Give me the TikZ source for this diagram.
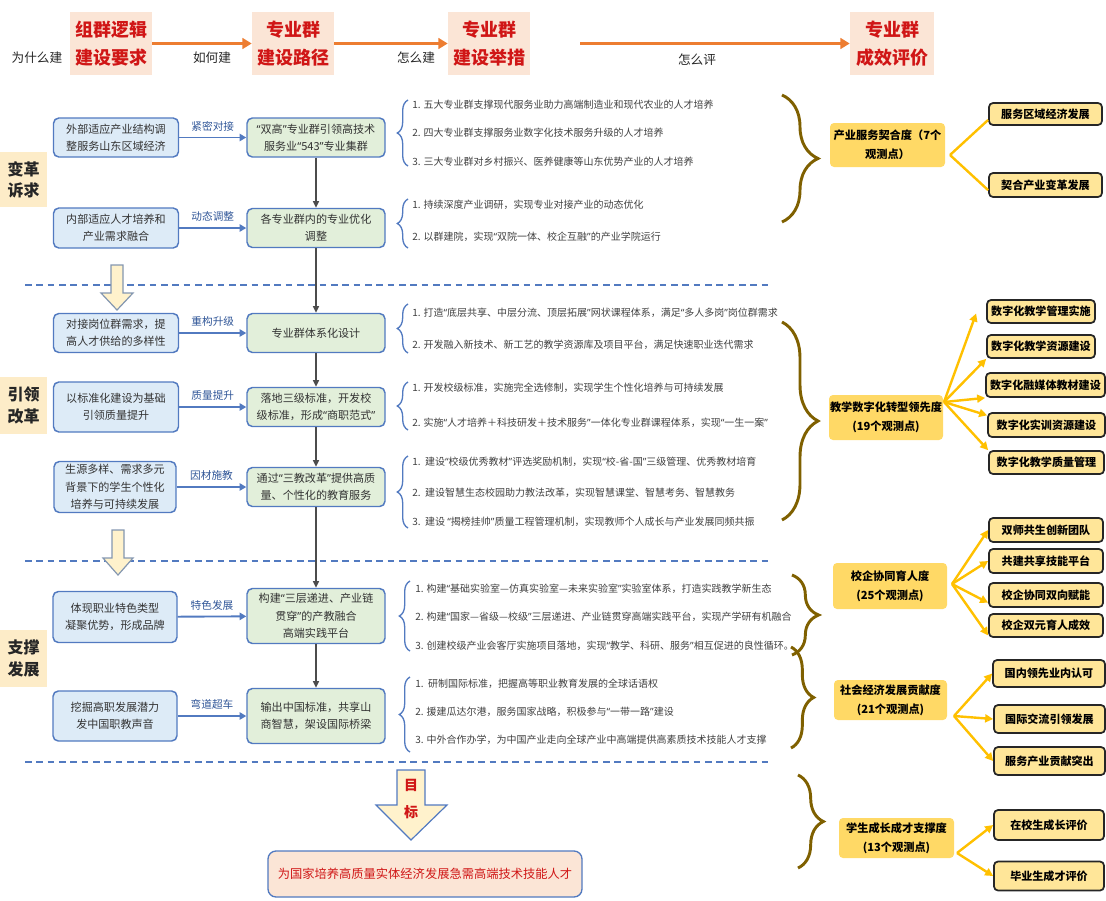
\documentclass[tikz,border=0pt]{standalone}
\usepackage{fontspec}
\setmainfont{Noto Sans CJK SC}
\newfontfamily\qtfont{Noto Sans}
\newcommand\qo{{\qtfont “}}
\newcommand\qc{{\qtfont ”}}
\usepackage{tikz}
\usetikzlibrary{arrows.meta,decorations.pathreplacing,calc}

\definecolor{hdrfill}{RGB}{251,229,214}
\definecolor{hdrred}{RGB}{208,22,22}
\definecolor{arrorange}{RGB}{237,125,49}
\definecolor{sidefill}{RGB}{253,236,200}
\definecolor{inblue}{RGB}{221,235,247}
\definecolor{edgeblue}{RGB}{82,122,192}
\definecolor{outgreen}{RGB}{226,239,218}
\definecolor{lblblue}{RGB}{47,85,151}
\definecolor{txtgray}{RGB}{64,64,64}
\definecolor{bracegold}{RGB}{127,96,0}
\definecolor{catgold}{RGB}{255,217,102}
\definecolor{leafgold}{RGB}{255,230,153}
\definecolor{lineamber}{RGB}{255,192,0}
\definecolor{blockfill}{RGB}{255,242,204}
\definecolor{blockedge}{RGB}{132,151,176}

\begin{document}
\begin{tikzpicture}[x=0.75pt,y=0.75pt,yscale=-1,xscale=1,
  wh/.style 2 args={minimum width=#1*0.75pt,minimum height=#2*0.75pt},
  hdrbox/.style={fill=hdrfill,text=hdrred,align=center,inner sep=0pt,font=\fontsize{13.5}{21}\selectfont\bfseries},
  hdrtxt/.style={inner sep=0pt,text=black!85,font=\fontsize{9.5}{11}\selectfont},
  sidebox/.style={fill=sidefill,align=center,inner sep=0pt,text=black!85,font=\fontsize{12}{16}\selectfont\bfseries},
  inbox/.style={draw=edgeblue,fill=inblue,line width=1.1pt,rounded corners=4pt,align=center,inner sep=0pt,text=black!80,font=\fontsize{8.3}{13}\selectfont},
  outbox/.style={inbox,fill=outgreen},
  linklbl/.style={text=lblblue,inner sep=1pt,font=\fontsize{8}{9}\selectfont},
  itemtxt/.style={anchor=west,inner sep=0pt,text=txtgray,font=\fontsize{7.5}{9}\selectfont},
  catbox/.style={fill=catgold,rounded corners=3pt,align=center,inner sep=0pt,font=\fontsize{8.4}{14}\selectfont\bfseries},
  leafbox/.style={fill=leafgold,draw=black!85,line width=1.3pt,rounded corners=3pt,inner sep=0pt,font=\fontsize{8.3}{10}\selectfont\bfseries},
  goalbox/.style={fill=hdrfill,draw=edgeblue,line width=1pt,rounded corners=6pt,inner sep=0pt,text=hdrred,font=\fontsize{9.2}{11}\selectfont},
  goaltxt/.style={align=center,inner sep=0pt,text=hdrred,font=\fontsize{10.5}{20}\selectfont\bfseries},
  hdrarrow/.style={draw=arrorange,line width=2.2pt,-{Triangle[length=7pt,width=8pt]}},
  linkarrow/.style={draw=edgeblue,line width=1.4pt,-{Triangle[length=5pt,width=5.5pt]}},
  flowarrow/.style={draw=black!70,line width=1pt,-{Triangle[length=5pt,width=4.5pt]}},
  sepline/.style={draw=edgeblue,line width=1.6pt,dash pattern=on 5pt off 3.5pt},
  ambline/.style={draw=lineamber,line width=1.8pt},
  ambarrow/.style={ambline,-{Triangle[length=6pt,width=6pt]}},
  blockarrow/.style={fill=blockfill,draw=blockedge,line width=0.9pt,line join=miter},
  goldbrace/.style={draw=bracegold,line width=2.2pt,decorate,decoration={brace,amplitude=#1}},
  bluebrace/.style={draw=edgeblue,line width=1pt,decorate,decoration={brace,amplitude=8pt}},
]
\useasboundingbox (0,0) rectangle (1106,900);

%Header row
\node[hdrbox,wh={82}{63}] (grpreq) at (111,43.5) {组群逻辑\\建设要求};
\node[hdrbox,wh={82}{63}] (grppath) at (293,43.5) {专业群\\建设路径};
\node[hdrbox,wh={82}{63}] (grpact) at (489,43.5) {专业群\\建设举措};
\node[hdrbox,wh={84}{63}] (grpeval) at (892,43.5) {专业群\\成效评价};
% Text Node
\node[hdrtxt] (why) at (37,58) {为什么建};
\node[hdrtxt] (how) at (212,58) {如何建};
\node[hdrtxt] (howbuild) at (416,58) {怎么建};
\node[hdrtxt] (howeval) at (697,60) {怎么评};
\coordinate (evalstart) at (580,43.5);
\draw[hdrarrow] (grpreq) -- (grppath);
\draw[hdrarrow] (grppath) -- (grpact);
\draw[hdrarrow] (evalstart) -- (grpeval);

%Side labels
\node[sidebox,wh={47}{55}] (reform) at (23.5,179.5) {变革\\诉求};
\node[sidebox,wh={47}{57}] (lead) at (23.5,405.5) {引领\\改革};
\node[sidebox,wh={47}{57}] (support) at (23.5,658.5) {支撑\\发展};

%Dashed separators
\draw[sepline] (25,285) -- (770,285);
\draw[sepline] (25,561) -- (770,561);
\draw[sepline] (25,762) -- (768,762);

%Shape: Block arrows
\draw[blockarrow] (111,265) -- (123,265) -- (123,293) -- (133,293) -- (117,310) -- (101,293) -- (111,293) -- cycle;
\draw[blockarrow] (112,530) -- (124,530) -- (124,558) -- (133,558) -- (118,575) -- (103,558) -- (112,558) -- cycle;

%Requirement boxes and path boxes
\node[inbox,wh={125}{39}] (extadapt) at (116,137.5) {外部适应产业结构调\\整服务山东区域经济};
\node[outbox,wh={138}{39}] (dualhigh) at (316,137.5) {\qo{}双高\qc{}专业群引领高技术\\服务业\qo{}543\qc{}专业集群};
\node[inbox,wh={125}{40}] (intadapt) at (116,228) {内部适应人才培养和\\产业需求融合};
\node[outbox,wh={138}{39}] (optim) at (316,228) {各专业群内的专业优化\\调整};
\node[inbox,wh={125}{39}] (postdock) at (116,333) {对接岗位群需求，提\\高人才供给的多样性};
\node[outbox,wh={138}{39}] (sysdesign) at (316,333) {专业群体系化设计};
\node[inbox,wh={125}{50}] (stdbase) at (116,407) {以标准化建设为基础\\引领质量提升};
\node[outbox,wh={138}{39}] (threelvl) at (316,407) {落地三级标准，开发校\\级标准，形成\qo{}商职范式\qc{}};
\node[inbox,wh={122}{51}] (diverse) at (115,487) {生源多样、需求多元\\背景下的学生个性化\\培养与可持续发展};
\node[outbox,wh={138}{39}] (threeedu) at (316,487) {通过\qo{}三教改革\qc{}提供高质\\量、个性化的教育服务};
\node[inbox,wh={124}{51}] (feature) at (115,617) {体现职业特色类型\\凝聚优势，形成品牌};
\node[outbox,wh={138}{55}] (platform) at (316,616) {构建\qo{}三层递进、产业链\\贯穿\qc{}的产教融合\\高端实践平台};
\node[inbox,wh={124}{50}] (potential) at (115,716) {挖掘高职发展潜力\\发中国职教声音};
\node[outbox,wh={138}{55}] (export) at (316,716) {输出中国标准，共享山\\商智慧，架设国际桥梁};

\draw[linkarrow] (extadapt) -- node[linklbl,above=3pt] (lk1) {紧密对接} (dualhigh);
\draw[linkarrow] (intadapt) -- node[linklbl,above=3pt] (lk2) {动态调整} (optim);
\draw[linkarrow] (postdock) -- node[linklbl,above=3pt] (lk3) {重构升级} (sysdesign);
\draw[linkarrow] (stdbase) -- node[linklbl,above=3pt] (lk4) {质量提升} (threelvl);
\draw[linkarrow] (diverse) -- node[linklbl,above=3pt] (lk5) {因材施教} (threeedu);
\draw[linkarrow] (feature) -- node[linklbl,above=3pt] (lk6) {特色发展} (platform);
\draw[linkarrow] (potential) -- node[linklbl,above=3pt] (lk7) {弯道超车} (export);

\draw[flowarrow] (dualhigh) -- (optim);
\draw[flowarrow] (optim) -- (sysdesign);
\draw[flowarrow] (sysdesign) -- (threelvl);
\draw[flowarrow] (threelvl) -- (threeedu);
\draw[flowarrow] (threeedu) -- (platform);
\draw[flowarrow] (platform) -- (export);

%Measures
\draw[bluebrace] (408,166) -- (408,100);
\node[itemtxt] (t11) at (412,105) {1. 五大专业群支撑现代服务业助力高端制造业和现代农业的人才培养};
\node[itemtxt] (t12) at (412,133) {2. 四大专业群支撑服务业数字化技术服务升级的人才培养};
\node[itemtxt] (t13) at (412,162) {3. 三大专业群对乡村振兴、医养健康等山东优势产业的人才培养};
\draw[bluebrace] (408,248) -- (408,199);
\node[itemtxt] (t21) at (412,205) {1. 持续深度产业调研，实现专业对接产业的动态优化};
\node[itemtxt] (t22) at (412,237) {2. 以群建院，实现\qo{}双院一体、校企互融\qc{}的产业学院运行};
\draw[bluebrace] (408,353) -- (408,304);
\node[itemtxt] (t31) at (412,313) {1. 打造\qo{}底层共享、中层分流、顶层拓展\qc{}网状课程体系，满足\qo{}多人多岗\qc{}岗位群需求};
\node[itemtxt] (t32) at (412,345) {2. 开发融入新技术、新工艺的教学资源库及项目平台，满足快速职业迭代需求};
\draw[bluebrace] (408,430) -- (408,382);
\node[itemtxt] (t41) at (412,388) {1. 开发校级标准，实施完全选修制，实现学生个性化培养与可持续发展};
\node[itemtxt] (t42) at (412,423) {2. 实施\qo{}人才培养＋科技研发＋技术服务\qc{}一体化专业群课程体系，实现\qo{}一生一案\qc{}};
\draw[bluebrace] (408,528) -- (408,456);
\node[itemtxt] (t51) at (412,462) {1.\ \ 建设\qo{}校级优秀教材\qc{}评选奖励机制，实现\qo{}校-省-国\qc{}三级管理、优秀教材培育};
\node[itemtxt] (t52) at (412,493) {2.\ \ 建设智慧生态校园助力教法改革，实现智慧课堂、智慧考务、智慧教务};
\node[itemtxt] (t53) at (412,522) {3.\ \ 建设 \qo{}揭榜挂帅\qc{}质量工程管理机制，实现教师个人成长与产业发展同频共振};
\draw[bluebrace] (410,651) -- (410,581);
\node[itemtxt] (t61) at (415,589) {1. 构建\qo{}基础实验室—仿真实验室—未来实验室\qc{}实验室体系，打造实践教学新生态};
\node[itemtxt] (t62) at (415,617) {2. 构建\qo{}国家—省级—校级\qc{}三层递进、产业链贯穿高端实践平台，实现产学研有机融合};
\node[itemtxt] (t63) at (415,646) {3. 创建校级产业会客厅实施项目落地，实现\qo{}教学、科研、服务\qc{}相互促进的良性循环。};
\draw[bluebrace] (410,752) -- (410,677);
\node[itemtxt] (t71) at (415,684) {1.\ \ 研制国际标准，把握高等职业教育发展的全球话语权};
\node[itemtxt] (t72) at (415,712) {2. 援建瓜达尔港，服务国家战略，积极参与\qo{}一带一路\qc{}建设};
\node[itemtxt] (t73) at (415,740) {3. 中外合作办学，为中国产业走向全球产业中高端提供高素质技术技能人才支撑};

%Goal
\draw[blockarrow,draw=edgeblue] (397,770) -- (425,770) -- (425,805) -- (447,805) -- (411,840) -- (376,805) -- (397,805) -- cycle;
\node[goaltxt] (goalword) at (411,799) {目\\标};
\node[goalbox,wh={314}{46}] (talent) at (425,874) {为国家培养高质量实体经济发展急需高端技术技能人才};

%Evaluation braces
\draw[goldbrace=27pt] (782,95) -- (782,222);
\draw[goldbrace=27pt] (782,322) -- (782,520);
\draw[goldbrace=20pt] (792,575) -- (792,655);
\draw[goldbrace=17pt] (791,647) -- (791,748);
\draw[goldbrace=19pt] (798,775) -- (798,868);

%Evaluation degrees
\node[catbox,wh={115}{44}] (fitdeg) at (887.5,145) {产业服务契合度（7个\\观测点）};
\node[catbox,wh={114}{45}] (digideg) at (886,417.5) {教学数字化转型领先度\\(19个观测点)};
\node[catbox,wh={114}{46}] (coopdeg) at (890,586) {校企协同育人度\\(25个观测点)};
\node[catbox,wh={113}{40}] (socdeg) at (890.5,700) {社会经济发展贡献度\\(21个观测点)};
\node[catbox,wh={115}{40}] (growdeg) at (896.5,838) {学生成长成才支撑度\\(13个观测点)};

%Observation points
\node[leafbox,wh={113}{22}] (regecon) at (1045.5,114) {服务区域经济发展};
\node[leafbox,wh={113}{24}] (indchg) at (1045.5,185) {契合产业变革发展};
\node[leafbox,wh={108}{23}] (dmgmt) at (1041,311.5) {数字化教学管理实施};
\node[leafbox,wh={108}{23}] (dres) at (1041,346.5) {数字化教学资源建设};
\node[leafbox,wh={119}{24}] (dmedia) at (1045.5,385) {数字化融媒体教材建设};
\node[leafbox,wh={117}{24}] (dtrain) at (1046.5,425) {数字化实训资源建设};
\node[leafbox,wh={115}{23}] (dqual) at (1046.5,462.5) {数字化教学质量管理};
\node[leafbox,wh={114}{24}] (dualteam) at (1046,530) {双师共生创新团队};
\node[leafbox,wh={114}{24}] (skillplat) at (1046,561) {共建共享技能平台};
\node[leafbox,wh={114}{24}] (twoway) at (1046,595) {校企协同双向赋能};
\node[leafbox,wh={114}{23}] (dualedu) at (1046,625.5) {校企双元育人成效};
\node[leafbox,wh={112}{27}] (domlead) at (1049,673.5) {国内领先业内认可};
\node[leafbox,wh={111}{28}] (intlead) at (1049.5,719) {国际交流引领发展};
\node[leafbox,wh={111}{28}] (indserv) at (1049.5,761) {服务产业贡献突出};
\node[leafbox,wh={110}{30}] (inschool) at (1049,825) {在校生成长评价};
\node[leafbox,wh={110}{29}] (graduate) at (1049,876) {毕业生成才评价};

\coordinate (fitout) at (950,155);
\coordinate (digiout) at (944,402);
\coordinate (coopout) at (952,584);
\coordinate (socout) at (954,716);
\coordinate (growout) at (957,853);

\draw[ambline] (fitout) -- ($(regecon.west)!0.5!(regecon.south west)$);
\draw[ambline] (fitout) -- ($(indchg.west)!0.4!(indchg.south west)$);
\draw[ambarrow] (digiout) -- ($(dmgmt.west)+(-10,2)$);
\draw[ambarrow] (digiout) -- (dres.south west);
\draw[ambarrow] (digiout) -- (dmedia.south west);
\draw[ambarrow] (digiout) -- ($(dtrain.north west)!0.25!(dtrain.west)$);
\draw[ambarrow] (digiout) -- (dqual.north west);
\draw[ambarrow] (coopout) -- (dualteam.west);
\draw[ambarrow] (coopout) -- (skillplat.west);
\draw[ambarrow] (coopout) -- ($(twoway.west)!0.6!(twoway.south west)$);
\draw[ambarrow] (coopout) -- ($(dualedu.west)!0.8!(dualedu.south west)$);
\draw[ambarrow] (socout) -- (domlead.west);
\draw[ambarrow] (socout) -- (intlead.west);
\draw[ambarrow] (socout) -- (indserv.west);
\draw[ambarrow] (growout) -- (inschool.west);
\draw[ambarrow] (growout) -- (graduate.west);
\end{tikzpicture}
\end{document}
